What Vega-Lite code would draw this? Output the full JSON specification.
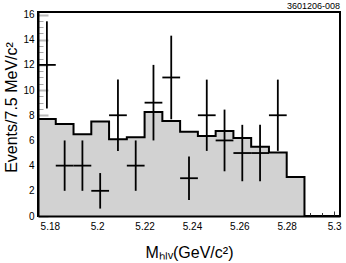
{
  "$schema": "https://vega.github.io/schema/vega-lite/v6.json",
  "width": 302,
  "height": 204,
  "autosize": {"type": "none"},
  "padding": {"left": 38, "top": 12, "right": 6, "bottom": 47},
  "config": {
    "view": {"stroke": "black", "strokeWidth": 2},
    "font": "Liberation Sans",
    "axis": {"grid": false, "labelFlush": false, "labelOverlap": false}
  },
  "title": {"text": "3601206-008", "anchor": "end", "frame": "group", "fontSize": 9, "fontWeight": "normal", "offset": 2, "baseline": "bottom", "dy": 12, "color": "black", "font": "Liberation Sans"},
  "datasets": {
    "hist": [
      {"edge": 5.175, "count": 7.7},
      {"edge": 5.1825, "count": 7.3},
      {"edge": 5.19, "count": 6.5},
      {"edge": 5.1975, "count": 7.5},
      {"edge": 5.205, "count": 6.1},
      {"edge": 5.2125, "count": 6.25},
      {"edge": 5.22, "count": 8.25},
      {"edge": 5.2275, "count": 7.55},
      {"edge": 5.235, "count": 6.7},
      {"edge": 5.2425, "count": 6.35},
      {"edge": 5.25, "count": 6.75},
      {"edge": 5.2575, "count": 6.2},
      {"edge": 5.265, "count": 5.5},
      {"edge": 5.2725, "count": 5.05},
      {"edge": 5.28, "count": 3.1},
      {"edge": 5.2875, "count": 0}
    ],
    "pts": [
      {"lo": 5.175, "hi": 5.1825, "mid": 5.17875, "n": 12, "elo": 8.54, "ehi": 15.46},
      {"lo": 5.1825, "hi": 5.19, "mid": 5.18625, "n": 4, "elo": 2, "ehi": 6},
      {"lo": 5.19, "hi": 5.1975, "mid": 5.19375, "n": 4, "elo": 2, "ehi": 6},
      {"lo": 5.1975, "hi": 5.205, "mid": 5.20125, "n": 2, "elo": 0.59, "ehi": 3.41},
      {"lo": 5.205, "hi": 5.2125, "mid": 5.20875, "n": 8, "elo": 5.17, "ehi": 10.83},
      {"lo": 5.2125, "hi": 5.22, "mid": 5.21625, "n": 4, "elo": 2, "ehi": 6},
      {"lo": 5.22, "hi": 5.2275, "mid": 5.22375, "n": 9, "elo": 6, "ehi": 12},
      {"lo": 5.2275, "hi": 5.235, "mid": 5.23125, "n": 11, "elo": 7.68, "ehi": 14.32},
      {"lo": 5.235, "hi": 5.2425, "mid": 5.23875, "n": 3, "elo": 1.27, "ehi": 4.73},
      {"lo": 5.2425, "hi": 5.25, "mid": 5.24625, "n": 8, "elo": 5.17, "ehi": 10.83},
      {"lo": 5.25, "hi": 5.2575, "mid": 5.25375, "n": 6, "elo": 3.55, "ehi": 8.45},
      {"lo": 5.2575, "hi": 5.265, "mid": 5.26125, "n": 5, "elo": 2.76, "ehi": 7.24},
      {"lo": 5.265, "hi": 5.2725, "mid": 5.26875, "n": 5, "elo": 2.76, "ehi": 7.24},
      {"lo": 5.2725, "hi": 5.28, "mid": 5.27625, "n": 8, "elo": 5.17, "ehi": 10.83}
    ]
  },
  "layer": [
    {
      "data": {"name": "hist"},
      "mark": {"type": "area", "interpolate": "step-after", "color": "#d2d2d2"},
      "encoding": {
        "x": {"field": "edge", "type": "quantitative", "scale": {"domain": [5.175, 5.3025], "nice": false, "zero": false},
          "axis": {"orient": "bottom", "values": [5.18, 5.2, 5.22, 5.24, 5.26, 5.28, 5.3], "format": ".2~f", "ticks": false, "domain": false,
            "labelFontSize": 10, "labelColor": "black", "labelPadding": 5,
            "title": "Mₕₗᵥ(GeV/c²)", "titleFontSize": 16, "titleFontWeight": "normal", "titleColor": "black", "titleBaseline": "alphabetic", "titleY": 41}},
        "y": {"field": "count", "type": "quantitative", "scale": {"domain": [0, 16.2], "nice": false},
          "axis": {"orient": "left", "values": [0, 2, 4, 6, 8, 10, 12, 14, 16], "format": "d", "ticks": false, "domain": false,
            "labelFontSize": 10, "labelColor": "black", "labelPadding": 4,
            "title": "Events/7.5 MeV/c²", "titleFontSize": 16, "titleFontWeight": "normal", "titleColor": "black", "titleBaseline": "alphabetic", "titleX": -22, "titleY": 95}}
      }
    },
    {
      "data": {"name": "hist"},
      "mark": {"type": "line", "interpolate": "step-after", "color": "black", "strokeWidth": 2},
      "encoding": {
        "x": {"field": "edge", "type": "quantitative", "scale": {"domain": [5.175, 5.3025], "nice": false, "zero": false},
          "axis": {"orient": "bottom", "values": [5.18, 5.2, 5.22, 5.24, 5.26, 5.28, 5.3], "labels": false, "domain": false, "title": null, "tickSize": -5, "tickColor": "#333", "tickWidth": 1}},
        "y": {"field": "count", "type": "quantitative", "scale": {"domain": [0, 16.2], "nice": false},
          "axis": {"orient": "left", "values": [0, 2, 4, 6, 8, 10, 12, 14, 16], "labels": false, "domain": false, "title": null, "tickSize": -10, "tickColor": "#bbbbbb", "tickWidth": 2}}
      }
    },
    {
      "data": {"name": "pts"},
      "mark": {"type": "rule", "color": "black", "strokeWidth": 1.8},
      "encoding": {
        "x": {"field": "mid", "type": "quantitative", "scale": {"domain": [5.175, 5.3025], "nice": false, "zero": false},
          "axis": {"orient": "bottom", "values": [5.185, 5.19, 5.195, 5.205, 5.21, 5.215, 5.225, 5.23, 5.235, 5.245, 5.25, 5.255, 5.265, 5.27, 5.275, 5.285, 5.29, 5.295], "labels": false, "domain": false, "title": null, "tickSize": -3.5, "tickColor": "#333", "tickWidth": 1}},
        "y": {"field": "elo", "type": "quantitative", "scale": {"domain": [0, 16.2], "nice": false},
          "axis": {"orient": "left", "values": [0.5, 1, 1.5, 2.5, 3, 3.5, 4.5, 5, 5.5, 6.5, 7, 7.5, 8.5, 9, 9.5, 10.5, 11, 11.5, 12.5, 13, 13.5, 14.5, 15, 15.5], "labels": false, "domain": false, "title": null, "tickSize": -5, "tickColor": "#aaaaaa", "tickWidth": 1}},
        "y2": {"field": "ehi"}
      }
    },
    {
      "data": {"name": "pts"},
      "mark": {"type": "rule", "color": "black", "strokeWidth": 1.8},
      "encoding": {
        "x": {"field": "lo", "type": "quantitative", "scale": {"domain": [5.175, 5.3025], "nice": false, "zero": false},
          "axis": {"orient": "bottom", "labels": false, "ticks": false, "title": null, "domain": true, "domainColor": "black", "domainWidth": 2, "zindex": 1}},
        "x2": {"field": "hi"},
        "y": {"field": "n", "type": "quantitative", "scale": {"domain": [0, 16.2], "nice": false},
          "axis": {"orient": "left", "labels": false, "ticks": false, "title": null, "domain": true, "domainColor": "black", "domainWidth": 2, "zindex": 1}}
      }
    }
  ],
  "resolve": {"axis": {"x": "independent", "y": "independent"}}
}
